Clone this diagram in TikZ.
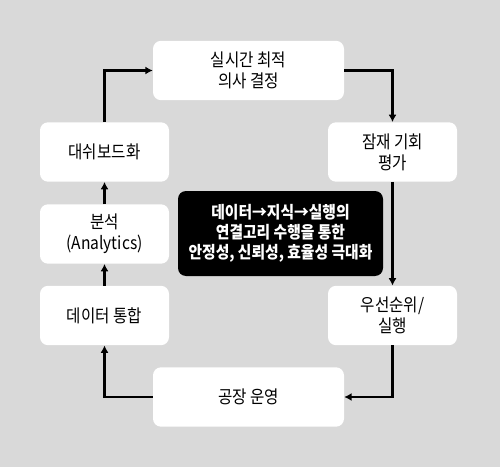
\documentclass[tikz,border=0pt]{standalone}
\usepackage{fontspec}
\setmainfont[FakeStretch=0.88]{Noto Sans CJK KR}
\usetikzlibrary{arrows.meta}
\definecolor{bggray}{HTML}{D9D9D9}
\tikzset{
  box/.style={draw=none, fill=white, rounded corners=6pt, align=center,
    font=\fontsize{13.3}{15.75}\selectfont, inner sep=0pt},
  widebox/.style={box, minimum width=143.25pt, minimum height=44.5pt},
  narrowbox/.style={box, minimum width=96.75pt, minimum height=44.5pt},
  darkbox/.style={fill=black, text=white, rounded corners=6pt, align=center,
    font=\fontsize{12.6}{15}\selectfont\bfseries, inner sep=0pt,
    minimum width=153.75pt, minimum height=63.75pt},
  arr/.style={line width=1.6pt, -{Latex[length=5.5pt,width=6pt]}}
}
\begin{document}
\begin{tikzpicture}[x=0.75pt,y=-0.75pt]
\fill[bggray] (0,0) rectangle (500,467);
\useasboundingbox (0,0) rectangle (500,467);
\node[widebox] (top) at (248.5,70.5) {실시간 최적\\의사 결정};
\node[narrowbox] (ru) at (392.5,152) {잠재 기회\\평가};
\node[narrowbox] (rl) at (392.5,315.5) {우선순위/\\실행};
\node[widebox] (bot) at (248.5,397) {공장 운영};
\node[narrowbox] (l1) at (104.5,152) {대쉬보드화};
\node[narrowbox] (l2) at (104.5,234) {분석\\(Analytics)};
\node[narrowbox] (l3) at (104.5,315.5) {데이터 통합};
\node[darkbox] (mid) at (280.5,233.5) {데이터→지식→실행의\\연결고리 수행을 통한\\안정성, 신뢰성, 효율성 극대화};
\draw[arr] (l1.north) |- (top.west);
\draw[arr] (top.east) -| (ru.north);
\draw[arr] (ru.south) -- (rl.north);
\draw[arr] (rl.south) |- (bot.east);
\draw[arr] (bot.west) -| (l3.south);
\draw[arr] (l3.north) -- (l2.south);
\draw[arr] (l2.north) -- (l1.south);
\end{tikzpicture}
\end{document}
